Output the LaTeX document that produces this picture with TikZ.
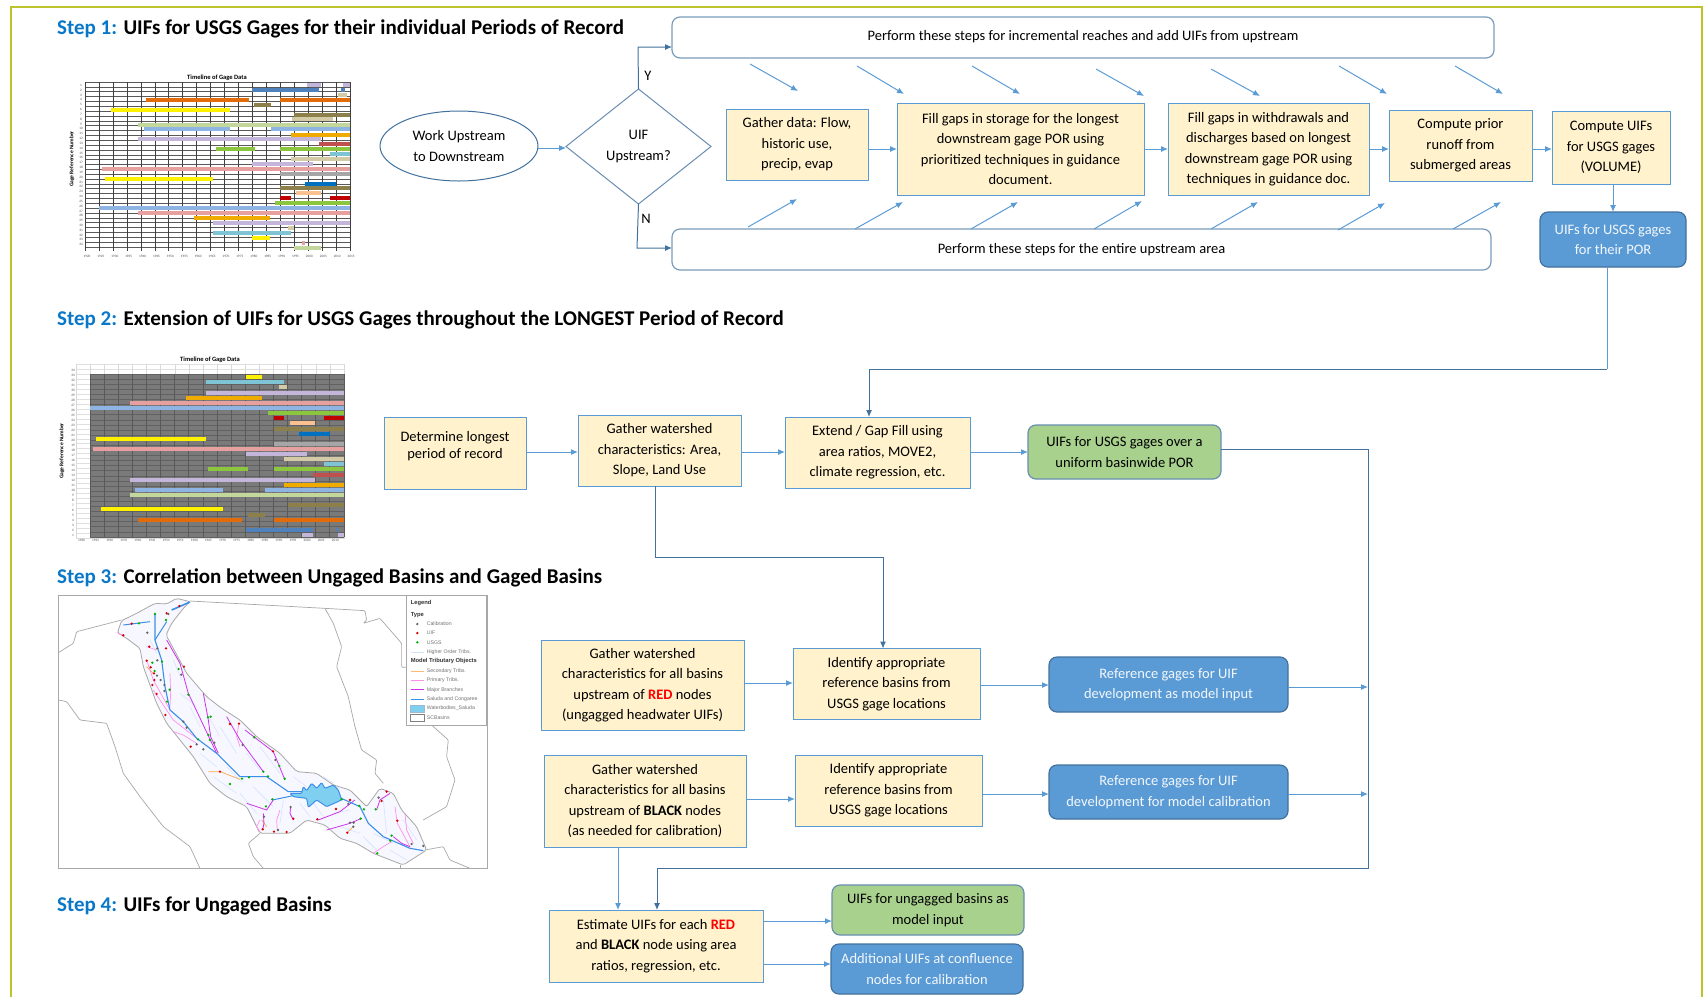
\documentclass[tikz,border=0pt]{standalone}
\usepackage{fontspec}
\setmainfont{Carlito}
\newfontfamily\legendfont{Liberation Sans}
\usetikzlibrary{shapes.geometric,arrows.meta}
\definecolor{framecol}{HTML}{BDC32B}
\definecolor{stepcol}{HTML}{0A78C8}
\definecolor{edgecol}{HTML}{5B9BD5}
\definecolor{darkcol}{HTML}{41719C}
\definecolor{creamcol}{HTML}{FFF2CC}
\definecolor{greencol}{HTML}{A9D18E}
\definecolor{bluecol}{HTML}{5B9BD5}
\definecolor{barpurple}{HTML}{C4B5DA}
\definecolor{barblue}{HTML}{4F81BD}
\definecolor{bartan}{HTML}{D3CBA6}
\definecolor{barorange}{HTML}{E36C0A}
\definecolor{barolive}{HTML}{8C7F4A}
\definecolor{barlime}{HTML}{C3D69B}
\definecolor{barsky}{HTML}{8DB4E2}
\definecolor{bargold}{HTML}{F0AB00}
\definecolor{barred}{HTML}{C0504D}
\definecolor{bargreen}{HTML}{8CC63F}
\definecolor{barcyan}{HTML}{7EC4D4}
\definecolor{barpink}{HTML}{E6A0A0}
\definecolor{bargray}{HTML}{A6A6A6}
\definecolor{bardeep}{HTML}{0070C0}
\definecolor{barpeach}{HTML}{FAC090}
\definecolor{barcrim}{HTML}{C00000}
\definecolor{mapriver}{HTML}{3B8FE8}
\definecolor{mapmajor}{HTML}{CC33E8}
\definecolor{mapprimary}{HTML}{FF90EE}
\definecolor{maptrib}{HTML}{D5E3FF}
\definecolor{mapgray}{HTML}{A8A8A8}
\definecolor{mapwater}{HTML}{7FCFF0}

\begin{document}
\begin{tikzpicture}[x=1pt,y=-1pt]
	\tikzset{
		flow/.style={-{Latex[length=7pt,width=6pt]}, draw=edgecol, line width=1pt},
		darkflow/.style={-{Latex[length=7pt,width=6pt]}, draw=darkcol, line width=1pt},
		basebox/.style={align=center, inner sep=0pt, outer sep=0pt, font=\fontsize{14.5}{20.5}\selectfont},
		cream/.style={basebox, draw=edgecol, fill=creamcol, line width=1pt},
		wide/.style={basebox, draw=darkcol!70, rounded corners=8pt, line width=1.2pt, fill=white},
		blueout/.style={basebox, draw=darkcol, fill=bluecol, text=white!92!bluecol, rounded corners=8pt, line width=1.2pt},
		greenout/.style={basebox, draw=darkcol!80, fill=greencol, rounded corners=8pt, line width=1.2pt},
		header/.style={anchor=west, inner sep=0pt, font=\bfseries\fontsize{21}{24}\selectfont},
		chartbold/.style={inner sep=0pt, font=\bfseries\fontsize{6.5}{7}\selectfont},
		charttick/.style={inner sep=0pt, font=\fontsize{3.4}{4}\selectfont, text=black!70},
		legendtxt/.style={anchor=west, inner sep=0pt, font=\legendfont\fontsize{5.2}{6}\selectfont, text=black!55},
		legendhead/.style={anchor=west, inner sep=0pt, font=\legendfont\bfseries\fontsize{5.8}{7}\selectfont, text=black!80}
	}
	\useasboundingbox (0,0) rectangle (1704,997);
	\draw[framecol, line width=1.6pt] (11,997) -- (11,7) -- (1702,7) -- (1702,997);

	\node[header](step1) at (57,29){\textcolor{stepcol}{Step 1:} UIFs for USGS Gages for their individual Periods of Record};
	\node[header](step2) at (57,320){\textcolor{stepcol}{Step 2:} Extension of UIFs for USGS Gages throughout the LONGEST Period of Record};
	\node[header](step3) at (57,578){\textcolor{stepcol}{Step 3:} Correlation between Ungaged Basins and Gaged Basins};
	\node[header](step4) at (57,906){\textcolor{stepcol}{Step 4:} UIFs for Ungaged Basins};

	\foreach \i in {0,...,34}
		\draw[black!65, line width=.5pt] (85,82+\i*4.85) -- (350,82+\i*4.85);
	\foreach \i in {0,...,19}
		\draw[black!75, line width=.5pt] (85+\i*13.95,82) -- (85+\i*13.95,251);
	\foreach \xa/\xb/\yy/\col in {
		307/321/85/barpurple, 343/350/85/barpurple, 252/319/90/barblue, 341/345/90/barblue,
		338/347/95/bartan, 146/249/100/barorange, 280/350/100/barorange, 254/271/105/barolive,
		111/230/110/yellow, 294/350/115/barolive, 292/333/119/bartan, 138/350/125/barlime,
		144/230/129/barsky, 271/350/129/barsky, 291/350/135/bargold, 138/321/139/barpurple,
		319/350/144/barred, 216/255/149/bargreen, 280/350/149/bargreen, 330/350/154/barcyan,
		291/350/159/bartan, 252/313/164/barpurple, 102/350/169/barpink, 280/350/174/bargray,
		105/213/179/yellow, 305/336/184/bardeep, 280/350/188/barolive, 296/321/193/barpeach,
		280/291/198/barcrim, 330/350/198/barcrim, 275/350/203/bargreen, 99/350/208/barsky,
		138/350/213/barpink, 194/270/218/bargold, 213/350/223/barpurple, 288/294/228/bartan,
		213/291/233/barcyan, 252/270/238/yellow, 302/305/243/barpink, 294/321/248/barlime}
		\fill[\col] (\xa,\yy-2.3) rectangle (\xb,\yy+2.3);
	\node[chartbold](title1) at (217,78){Timeline of Gage Data};
	\node[chartbold, rotate=90, font=\bfseries\fontsize{5.5}{6}\selectfont](axis1) at (72,159){Gage Reference Number};
	\foreach \i in {1,...,34}
		\node[charttick](row1-\i) at (81,80.5+\i*4.83){\i};
	\foreach \i [evaluate=\i as \yr using int(1920+5*\i)] in {0,...,19}
		\node[charttick](tick1-\i) at (87+\i*13.9,256){\yr};

	\foreach \i in {0,...,35}
		\draw[black!12, line width=.4pt] (76,364+\i*4.98) -- (344,364+\i*4.98);
	\foreach \i in {0,...,19}
		\draw[black!15, line width=.4pt] (76+\i*14.1,364) -- (76+\i*14.1,539);
	\fill[black!52] (90,374) rectangle (344,537);
	\foreach \i in {0,...,32}
		\draw[black!62, line width=.5pt] (90,374+\i*5.09) -- (344,374+\i*5.09);
	\foreach \i in {0,...,18}
		\draw[black!65, line width=.5pt] (90+\i*14.1,374) -- (90+\i*14.1,537);
	\foreach \xa/\xb/\yy/\col in {
		246/262/377/yellow, 206/284/382/barcyan, 279/287/387/bartan, 206/344/393/barpurple,
		186/262/398/bargold, 130/344/403/barpink, 90/344/408/barsky, 268/344/413/bargreen,
		274/284/418/barcrim, 324/344/418/barcrim, 290/315/423/barpeach, 274/344/429/barolive,
		299/330/434/bardeep, 96/206/439/yellow, 274/344/444/bargray, 93/344/449/barpink,
		246/307/454/barpurple, 284/344/459/bartan, 324/344/464/barcyan, 208/248/469/bargreen,
		274/344/469/bargreen, 313/344/475/barred, 130/315/480/barpurple, 284/344/485/bargold,
		135/223/490/barsky, 265/344/490/barsky, 130/344/495/barlime, 288/344/505/barolive,
		101/223/509/yellow, 248/265/515/barolive, 138/242/520/barorange, 274/344/520/barorange,
		246/313/530/barblue, 336/338/530/barblue, 302/313/535/barpurple, 338/344/535/barpurple}
		\fill[\col] (\xa,\yy-2.3) rectangle (\xb,\yy+2.3);
	\node[chartbold](title2) at (210,360){Timeline of Gage Data};
	\node[chartbold, rotate=90, font=\bfseries\fontsize{5.5}{6}\selectfont](axis2) at (62,451){Gage Reference Number};
	\foreach \i in {1,...,34}
		\node[charttick](row2-\i) at (73,540-\i*5){\i};
	\foreach \i [evaluate=\i as \yr using int(1920+5*\i)] in {0,...,18}
		\node[charttick](tick2-\i) at (81.5+\i*14.1,540){\yr};

	\begin{scope}[shift={(40,580)}, x=.3333pt, y=-.3333pt]
		\draw[mapgray, line width=.9pt, fill=white] (55,47) rectangle (1342,865);
		\draw[mapgray, line width=.7pt, rounded corners=1pt] (55,218) -- (100,190) -- (110,155) -- (245,120);
		\draw[mapgray, line width=.7pt, rounded corners=1pt] (450,63) -- (855,85) -- (975,92) -- (980,120) -- (970,130) -- (1020,115) -- (1085,190) -- (1085,262) -- (1100,262);
		\draw[mapgray, line width=.7pt, rounded corners=1pt] (855,85) -- (880,130) -- (905,200) -- (890,260) -- (925,350) -- (945,440) -- (965,510) -- (1010,540) -- (1005,580) -- (1030,610);
		\draw[mapgray, line width=.7pt, rounded corners=1pt] (55,360) -- (80,365) -- (120,420) -- (200,430) -- (225,500) -- (250,580) -- (300,650) -- (370,740) -- (450,800) -- (480,865);
		\draw[mapgray, line width=.7pt, rounded corners=1pt] (1175,435) -- (1225,480) -- (1220,530) -- (1245,600) -- (1220,680) -- (1150,720);
		\draw[mapgray, line width=.7pt, rounded corners=1pt] (1155,810) -- (1210,800) -- (1230,840) -- (1290,865);
		\draw[mapgray, line width=.7pt, rounded corners=1pt] (660,760) -- (625,790) -- (640,830) -- (670,865);
		\draw[mapgray, line width=.7pt, rounded corners=1pt] (1080,855) -- (1080,865);
		\draw[mapgray, line width=.8pt, fill=blue!3, rounded corners=2pt] (232,158) -- (245,122) -- (290,100) -- (345,70) -- (380,72) -- (410,55) -- (450,65) -- (430,85) -- (395,130) -- (378,165) -- (400,205) -- (440,280) -- (500,350) -- (545,385) -- (600,420) -- (650,470) -- (720,520) -- (770,575) -- (830,580) -- (880,615) -- (930,630) -- (980,680) -- (1020,625) -- (1060,640) -- (1085,690) -- (1130,740) -- (1160,810) -- (1090,855) -- (1000,820) -- (950,790) -- (900,775) -- (855,735) -- (800,720) -- (750,760) -- (660,760) -- (620,680) -- (560,650) -- (510,610) -- (460,530) -- (380,430) -- (350,370) -- (310,260) -- (300,205) -- (260,175) -- cycle;
		\foreach \ax/\ay/\bx/\by in {
			400/240/425/300, 450/380/480/440, 500/400/540/470, 540/440/590/520, 480/520/530/560,
			520/590/590/640, 600/640/650/700, 640/620/700/680, 620/520/660/570, 660/500/720/580,
			730/660/720/730, 780/670/810/710, 820/670/850/710, 880/700/930/690, 900/740/960/760,
			1000/760/1060/790, 1030/660/1040/760, 1090/720/1130/780, 970/770/1010/810, 1050/810/1100/840,
			560/560/610/610, 760/590/800/620, 850/590/880/610, 420/340/470/380, 330/180/350/220}
			\draw[maptrib, line width=.6pt] (\ax,\ay) -- (\bx,\by);
		\draw[orange!70, line width=.7pt] (505,575) -- (540,575) -- (600,598);
		\draw[orange!70, line width=.7pt] (320,260) -- (340,280);
		\draw[orange!70, line width=.7pt] (665,720) -- (680,740);
		\draw[orange!70, line width=.7pt] (925,755) -- (940,740);
		\foreach \ax/\ay/\bx/\by/\cx/\cy in {
			320/240/340/300/390/390, 340/330/400/420/470/475, 390/280/392/340/390/380, 230/158/240/162/250/165,
			597/430/590/470/600/500, 660/720/650/740/660/755, 720/690/710/720/712/750, 1065/680/1072/730/1110/800,
			1095/700/1100/750/1120/790, 1000/820/1030/800/1055/785, 400/455/430/465/470/490, 320/200/335/205/350/210}
			\draw[mapprimary, line width=.7pt] (\ax,\ay) -- (\bx,\by) -- (\cx,\cy);
		\foreach \ax/\ay/\bx/\by/\cx/\cy/\dx/\dy in {
			380/180/420/250/445/340/530/520, 490/340/505/420/512/470/535/520, 560/410/600/480/670/575/670/575,
			615/450/700/515/735/600/735/600, 620/670/680/690/700/660/700/660, 835/720/900/695/945/660/945/660,
			860/750/930/730/965/715/965/715, 1060/770/1085/790/1110/800/1110/800, 1010/690/1020/660/1050/640/1050/640,
			760/720/750/700/752/680/752/680, 670/700/672/730/668/750/668/750}
			\draw[mapmajor, line width=.8pt] (\ax,\ay) -- (\bx,\by) -- (\cx,\cy) -- (\dx,\dy);
		\draw[mapriver, line width=1.1pt] (345,100) -- (345,180) -- (365,240) -- (375,320) -- (390,390) -- (430,425) -- (470,475) -- (530,520) -- (600,590) -- (680,590) -- (745,635) -- (800,635) -- (870,640) -- (960,680) -- (985,730) -- (1030,770) -- (1110,805) -- (1150,812);
		\draw[mapriver, line width=1pt] (250,135) -- (330,125);
		\draw[mapriver, line width=1pt] (345,180) -- (380,125);
		\draw[mapriver, line width=1.6pt] (395,90) -- (450,66);
		\draw[mapriver, line width=1pt] (697,660) -- (755,648);
		\draw[mapriver, fill=mapwater, line width=1pt, rounded corners=1pt] (750,640) -- (785,640) -- (790,620) -- (800,632) -- (815,610) -- (830,625) -- (845,608) -- (855,625) -- (880,615) -- (895,630) -- (905,660) -- (860,680) -- (830,660) -- (805,682) -- (800,655) -- (760,650) -- cycle;
		\foreach \mx/\my in {275/131,250/166,328/200,378/205,320/242,332/262,342/280,343/300,337/315,350/342,376/405,432/260,418/78,380/100,452/500,540/575,570/432,597/431,699/514,760/716,668/748,702/755,740/756,832/718,888/687,922/758,930/660,1072/722,1040/635,1025/663}
			\fill[red!85!black] (\mx,\my) circle (1.3pt);
		\foreach \mx/\my in {345/102,378/120,297/130,337/248,366/245,344/273,416/267,389/329,445/344,381/365,504/412,512/410,505/465,510/480,474/478,643/472,670/575,684/589,718/558,734/596,606/596,627/592,570/612,697/658,678/679,905/658,958/678,972/688,962/716,1007/688,1055/767,1051/782,1012/820}
			\fill[green!70!black] (\mx,\my) circle (1.3pt);
		\foreach \mx/\my in {385/102,322/158,352/205,352/241,351/287,362/300,373/315,373/333,424/284,430/425,440/443,470/493,490/508,523/488,608/495,706/540,752/681,672/710,714/750,925/672,930/728,941/728,940/740,1016/653,1115/792,1150/798}
			\fill[black!60] (\mx,\my) circle (1.3pt);
		\draw[mapgray, line width=.9pt, fill=white] (1100,47) rectangle (1340,435);
		\node[legendhead](legend) at (1112,70){Legend};
		\node[legendhead](legendtype) at (1112,104){Type};
		\fill[black!60] (1132,132) circle (1.3pt);
		\fill[red!85!black] (1132,159) circle (1.3pt);
		\fill[green!70!black] (1132,187) circle (1.3pt);
		\draw[maptrib, line width=.7pt] (1112,216) -- (1152,216);
		\draw[orange!55, line width=.7pt] (1112,273) -- (1152,273);
		\draw[mapprimary, line width=.7pt] (1112,301) -- (1152,301);
		\draw[mapmajor, line width=.8pt] (1112,329) -- (1152,329);
		\draw[mapriver, line width=1pt] (1112,357) -- (1152,357);
		\draw[darkcol!50, fill=mapwater] (1112,375) rectangle (1152,396);
		\draw[black!50, fill=white] (1112,404) rectangle (1152,424);
		\node[legendtxt](leg1) at (1160,132){Calibration};
		\node[legendtxt](leg2) at (1160,159){UIF};
		\node[legendtxt](leg3) at (1160,187){USGS};
		\node[legendtxt](leg4) at (1160,216){Higher Order Tribs.};
		\node[legendhead](legendmodel) at (1112,244){Model Tributary Objects};
		\node[legendtxt](leg5) at (1160,273){Secondary Tribs.};
		\node[legendtxt](leg6) at (1160,301){Primary Tribs.};
		\node[legendtxt](leg7) at (1160,329){Major Branches};
		\node[legendtxt](leg8) at (1160,357){Saluda and Congaree};
		\node[legendtxt](leg9) at (1160,385){Waterbodies\_Saluda};
		\node[legendtxt](leg10) at (1160,413){SCBasins};
	\end{scope}

	\node[ellipse, draw=darkcol, basebox, minimum width=158pt, minimum height=70pt, line width=1pt](work) at (459,146){Work Upstream\\to Downstream};
	\node[diamond, draw=darkcol!80, basebox, minimum width=145pt, minimum height=115pt, line width=1pt](uif) at (638.5,146.5){UIF\\Upstream?};
	\node[wide, minimum width=822pt, minimum height=41pt, text depth=4pt](incr) at (1083,37.5){Perform these steps for incremental reaches and add UIFs from upstream};
	\node[wide, minimum width=819pt, minimum height=41pt, text depth=3pt](entire) at (1081.5,249.5){Perform these steps for the entire upstream area};
	\node[cream, minimum width=142pt, minimum height=71pt](gather) at (797,144.5){Gather data: Flow,\\historic use,\\precip, evap};
	\node[cream, minimum width=247pt, minimum height=92pt](storage) at (1020.5,149){Fill gaps in storage for the longest\\downstream gage POR using\\prioritized techniques in guidance\\document.};
	\node[cream, minimum width=201pt, minimum height=92pt](withdraw) at (1268.5,149){Fill gaps in withdrawals and\\discharges based on longest\\downstream gage POR using\\techniques in guidance doc.};
	\node[cream, minimum width=143pt, minimum height=71pt](prior) at (1460.5,145.5){Compute prior\\runoff from\\submerged areas};
	\node[cream, minimum width=118pt, minimum height=73pt](volume) at (1611,147.5){Compute UIFs\\for USGS gages\\(VOLUME)};
	\node[blueout, minimum width=146pt, minimum height=55pt](por) at (1613,239.5){UIFs for USGS gages\\for their POR};

	\node[cream, minimum width=142pt, minimum height=72pt, text depth=16pt, font=\fontsize{14.5}{17.7}\selectfont](longest) at (455,453){Determine longest\\period of record};
	\node[cream, minimum width=163pt, minimum height=71pt](watershed) at (659.5,450.5){Gather watershed\\characteristics: Area,\\Slope, Land Use};
	\node[cream, minimum width=185pt, minimum height=71pt](extend) at (877.5,452.5){Extend / Gap Fill using\\area ratios, MOVE2,\\climate regression, etc.};
	\node[greenout, minimum width=193pt, minimum height=54pt](uniform) at (1124.5,452){UIFs for USGS gages over a\\uniform basinwide POR};

	\node[cream, minimum width=203pt, minimum height=90pt](redbasin) at (642.5,685){Gather watershed\\characteristics for all basins\\upstream of \textcolor{red}{\bfseries RED} nodes\\(ungagged headwater UIFs)};
	\node[cream, minimum width=187pt, minimum height=71pt](refone) at (886.5,684){Identify appropriate\\reference basins from\\USGS gage locations};
	\node[blueout, minimum width=239pt, minimum height=55pt](inputgages) at (1168.5,684.5){Reference gages for UIF\\development as model input};
	\node[cream, minimum width=202pt, minimum height=92pt](blackbasin) at (645,801){Gather watershed\\characteristics for all basins\\upstream of \textbf{BLACK} nodes\\(as needed for calibration)};
	\node[cream, minimum width=187pt, minimum height=71pt](reftwo) at (888.5,790.5){Identify appropriate\\reference basins from\\USGS gage locations};
	\node[blueout, minimum width=239pt, minimum height=54pt](calibgages) at (1168.5,792){Reference gages for UIF\\development for model calibration};

	\node[cream, minimum width=214pt, minimum height=72pt](estimate) at (656,946){Estimate UIFs for each \textcolor{red}{\bfseries RED}\\and \textbf{BLACK} node using area\\ratios, regression, etc.};
	\node[greenout, minimum width=192pt, minimum height=50pt](ungagged) at (928,910){UIFs for ungagged basins as\\model input};
	\node[blueout, minimum width=192pt, minimum height=50pt](additional) at (927,969){Additional UIFs at confluence\\nodes for calibration};

	\node[basebox](yes) at (648,76){Y};
	\node[basebox](no) at (646,219){N};

	\coordinate(rowone) at (0,149);
	\coordinate(rowtwo) at (0,452);
	\coordinate(topjoin) at (638,47);
	\coordinate(lowjoin) at (637,248);
	\coordinate(porfoot) at (1607,369);
	\coordinate(porcorner) at (869,369);
	\coordinate(porstart) at (1607,267);
	\coordinate(bigtop) at (1368,449);
	\coordinate(bigfoot) at (1368,868);
	\coordinate(bigleft) at (657,868);
	\coordinate(waterbend) at (655,557);
	\coordinate(refbend) at (883,557);
	\coordinate(joinone) at (1368,687);
	\coordinate(jointwo) at (1368,794);

	\draw[flow] (work.east |- 0,148) -- (uif.west |- 0,148);
	\draw[darkflow] (uif.north) -- (topjoin) -- (incr.west |- topjoin);
	\draw[darkflow] (uif.south) -- (lowjoin) -- (entire.west |- lowjoin);
	\draw[flow] (gather.east |- rowone) -- (storage.west |- rowone);
	\draw[flow] (storage.east |- rowone) -- (withdraw.west |- rowone);
	\draw[flow] (withdraw.east |- rowone) -- (prior.west |- rowone);
	\draw[flow] (prior.east |- rowone) -- (volume.west |- rowone);
	\draw[flow] (volume.south -| por.north) -- (por.north);
	\draw[draw=edgecol, line width=1pt] (porstart) -- (porfoot);
	\draw[darkflow] (porfoot) -- (porcorner) -- (extend.north -| porcorner);

	\foreach \n/\ax/\ay/\bx/\by in {1/750/64/798/91, 2/857/66/904/94, 3/972/66/1020/94, 4/1096/69/1144/96, 5/1211/69/1260/96, 6/1339/66/1387/94, 7/1455/66/1503/94}{
		\coordinate(topa\n) at (\ax,\ay);
		\coordinate(topb\n) at (\bx,\by);
		\draw[flow] (topa\n) -- (topb\n);
	}
	\foreach \n/\ax/\ay/\bx/\by in {1/748/227/797/199, 2/855/229/903/202, 3/971/229/1018/202, 4/1094/229/1142/201, 5/1211/229/1258/202, 6/1338/230/1385/203, 7/1453/229/1501/202}{
		\coordinate(lowa\n) at (\ax,\ay);
		\coordinate(lowb\n) at (\bx,\by);
		\draw[flow] (lowa\n) -- (lowb\n);
	}

	\draw[flow] (longest.east |- rowtwo) -- (watershed.west |- rowtwo);
	\draw[flow] (watershed.east |- rowtwo) -- (extend.west |- rowtwo);
	\draw[flow] (extend.east |- rowtwo) -- (uniform.west |- rowtwo);
	\draw[darkflow] (uniform.east |- bigtop) -- (bigtop) -- (bigfoot) -- (bigleft) -- (estimate.north -| bigleft);
	\draw[darkflow] (watershed.south -| waterbend) -- (waterbend) -- (refbend) -- (refone.north -| refbend);

	\draw[flow] (redbasin.east |- 0,683) -- (refone.west |- 0,683);
	\draw[flow] (refone.east |- 0,685) -- (inputgages.west |- 0,685);
	\draw[flow] (inputgages.east |- joinone) -- (joinone);
	\draw[flow] (blackbasin.east |- 0,799) -- (reftwo.west |- 0,799);
	\draw[flow] (reftwo.east |- jointwo) -- (calibgages.west |- jointwo);
	\draw[flow] (calibgages.east |- jointwo) -- (jointwo);
	\draw[flow] (blackbasin.south -| 618,0) -- (estimate.north -| 618,0);
	\draw[flow] (estimate.east |- 0,921) -- (ungagged.west |- 0,921);
	\draw[flow] (estimate.east |- 0,964) -- (additional.west |- 0,964);
\end{tikzpicture}
\end{document}
